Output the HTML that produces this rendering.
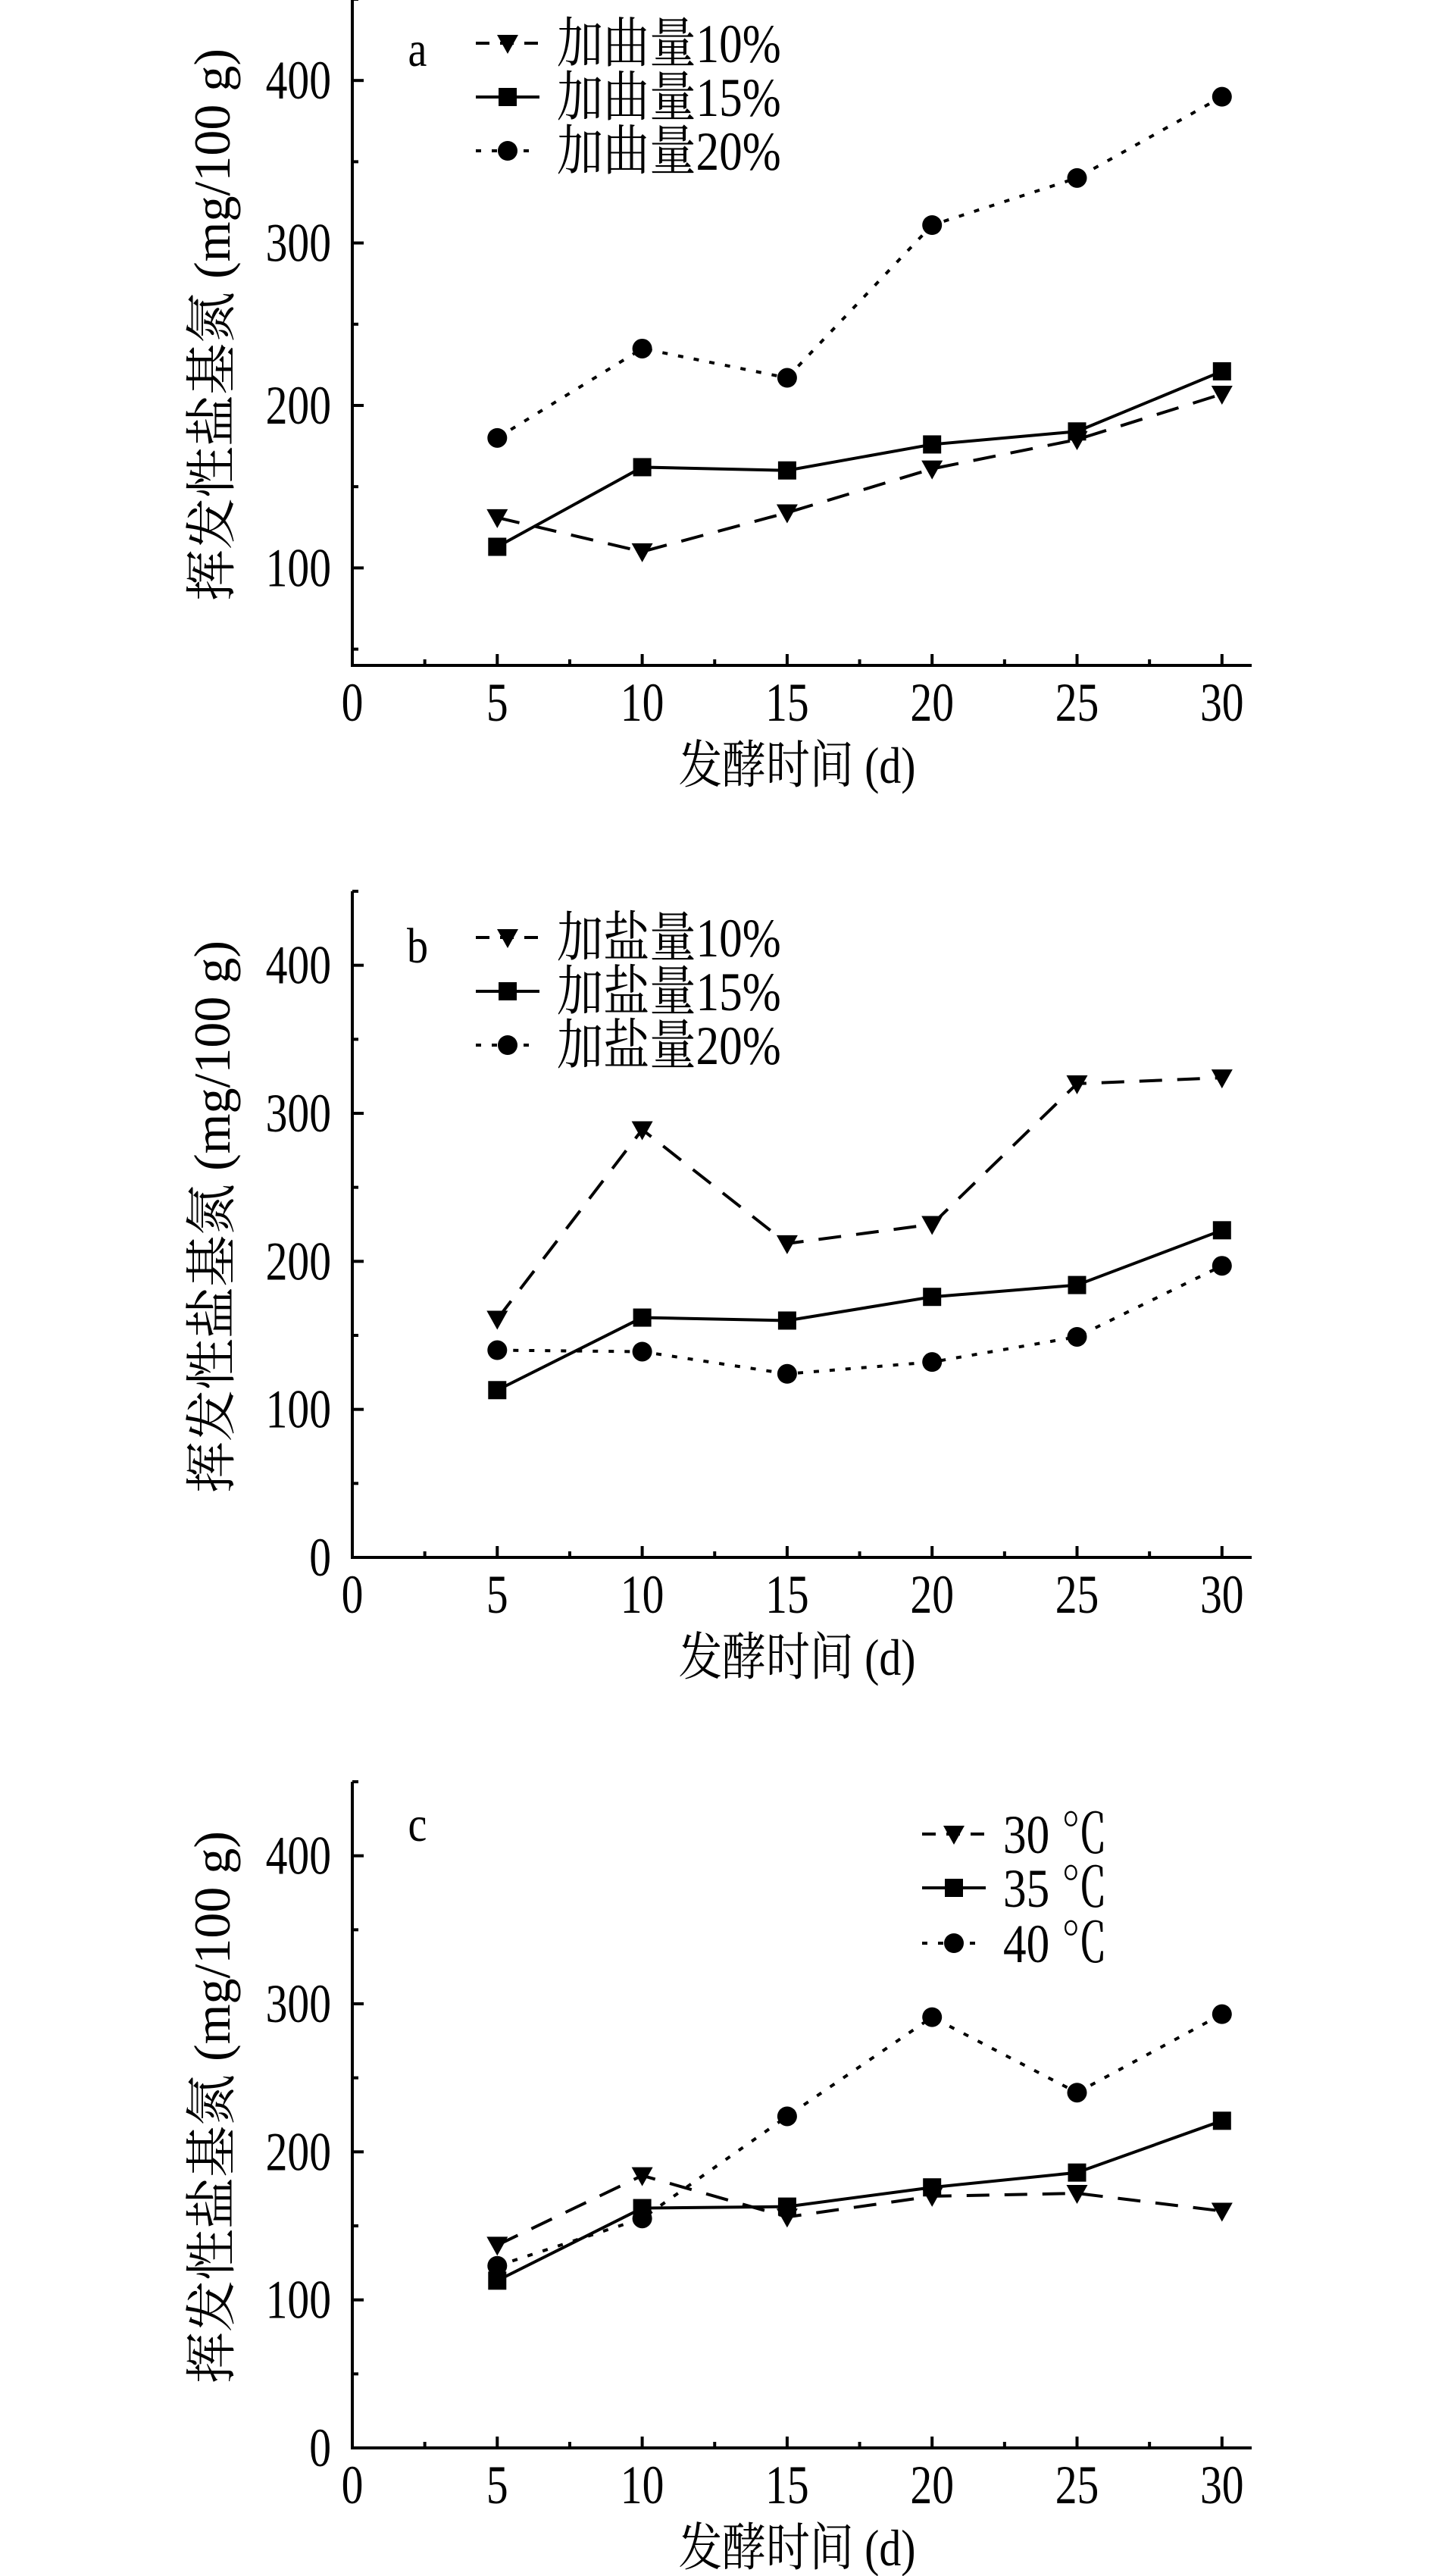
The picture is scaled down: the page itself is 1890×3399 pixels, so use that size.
<!DOCTYPE html>
<html><head><meta charset="utf-8"><style>
html,body{margin:0;padding:0;background:#fff;}
svg{display:block;}
text{font-family:"Liberation Serif","Noto Serif CJK SC",serif;fill:#000;}
</style></head><body>
<svg id="fig" width="1890" height="3399" viewBox="0 0 1890 3399" xmlns="http://www.w3.org/2000/svg"></svg>
<script>
// Shared x categories (fermentation days)
const days = [5, 10, 15, 20, 25, 30];
const xTicks = [0, 5, 10, 15, 20, 25, 30];
const yTicks = [0, 100, 200, 300, 400];

// Panel a: 加曲量
const aLabels = ["加曲量10%", "加曲量15%", "加曲量20%"];
const aS1 = [131, 110, 134, 161, 179, 207];
const aS2 = [113, 162, 160, 176, 184, 221];
const aS3 = [180, 235, 217, 311, 340, 390];
// Panel b: 加盐量
const bLabels = ["加盐量10%", "加盐量15%", "加盐量20%"];
const bS1 = [161, 289, 212, 225, 320, 324];
const bS2 = [113, 162, 160, 176, 184, 221];
const bS3 = [140, 139, 124, 132, 149, 197];
// Panel c: temperature
const cLabels = ["30 ℃", "35 ℃", "40 ℃"];
const cS1 = [137, 184, 156, 170, 172, 160];
const cS2 = [113, 162, 163, 176, 186, 221];
const cS3 = [123, 155, 224, 291, 240, 293];

const NS = "http://www.w3.org/2000/svg";
const svg = document.getElementById("fig");
function mk(tag, attrs, parent) {
  const e = document.createElementNS(NS, tag);
  for (const k in attrs) e.setAttribute(k, attrs[k]);
  (parent || svg).appendChild(e);
  return e;
}
function txt(parent, x, y, size, anchor, sx, rot) {
  const t = mk("text", {x: 0, y: 0, "font-size": size, "text-anchor": anchor,
    transform: "translate(" + x + " " + y + ")" + (rot ? " rotate(" + rot + ")" : "") + " scale(" + sx + " 1)"}, parent);
  return t;
}

const X0 = 465, X1 = 1652, XPER = 191.3 / 5;
const PLOT_H = 879;

function marker(g, kind, cx, cy) {
  let m;
  if (kind === 0) {
    m = mk("polygon", {points: (cx-14)+","+(cy-11)+" "+(cx+14)+","+(cy-11)+" "+cx+","+(cy+14), fill:"#000"}, g);
  } else if (kind === 1) {
    m = mk("rect", {x: cx-12, y: cy-12, width: 24, height: 24, fill:"#000"}, g);
  } else {
    m = mk("circle", {cx: cx, cy: cy, r: 13, fill:"#000"}, g);
  }
  return m;
}
const dashes = ["30 20", "", "7 14"];

function panel(id, bottom, ymin, ymax, letter, letterY, labels, series, legX, legY) {
  const g = mk("g", {});
  
  
  const yper = PLOT_H / (ymax - ymin);
  const top = bottom - PLOT_H;
  const xs = v => X0 + v * XPER;
  const ys = v => bottom - (v - ymin) * yper;

  const ax = mk("path", {d: "M"+X0+" "+top+" L"+X0+" "+bottom+" L"+X1+" "+bottom, fill:"none", stroke:"#000", "stroke-width":4}, g);
  
  
  for (let v = 0; v <= 30; v += 2.5) {
    const major = v % 5 === 0;
    mk("line", {x1: xs(v), x2: xs(v), y1: bottom, y2: bottom - (major ? 15 : 8), stroke:"#000", "stroke-width":4}, g);
  }
  xTicks.forEach(v => {
    const t = txt(g, xs(v), bottom + 73, 72, "middle", 0.8);
    t.textContent = v;
    
    
  });
  for (let v = 0; v <= 450; v += 50) {
    if (v < ymin) continue;
    const major = v % 100 === 0;
    mk("line", {x1: X0, x2: X0 + (major ? 15 : 8), y1: ys(v), y2: ys(v), stroke:"#000", "stroke-width":4}, g);
  }
  yTicks.forEach(v => {
    if (v < ymin) return;
    const t = txt(g, 437, ys(v) + 24, 72, "end", 0.8);
    t.textContent = v;
    
    
  });
  const xt = txt(g, 1052, bottom + 155, 68, "middle", 0.85);
  xt.textContent = "发酵时间 (d)";
  
  
  const cy = (top + bottom) / 2 - 10;
  const yt = txt(g, 303, cy, 68, "middle", 1, -90);
  yt.textContent = "挥发性盐基氮 (mg/100 g)";
  
  
  const lt = txt(g, 551, letterY + 20, 66, "middle", 0.85);
  lt.textContent = letter;
  
  

  series.forEach((vals, si) => {
    const sg = mk("g", {}, g);
    
    
    const pts = vals.map((v, i) => xs(days[i]) + "," + ys(v)).join(" ");
    const pl = mk("polyline", {points: pts, fill:"none", stroke:"#000", "stroke-width":4}, sg);
    if (dashes[si]) pl.setAttribute("stroke-dasharray", dashes[si]);
    
    
    vals.forEach((v, i) => {
      const m = marker(sg, si, xs(days[i]), ys(v));
      
      
    });
  });

  labels.forEach((lab, si) => {
    const ly = legY[si];
    const lg = mk("g", {}, g);
    
    
    const l = mk("line", {x1: legX, x2: legX + 84, y1: ly, y2: ly, stroke:"#000", "stroke-width":4}, lg);
    if (dashes[si]) l.setAttribute("stroke-dasharray", si === 0 ? "18 14" : "7 14");
    marker(lg, si, legX + 42, ly);
    const t = txt(lg, legX + 107, ly + 25, 72, "start", 0.85);
    t.textContent = lab;
  });
}

panel("a", 878, 40, 450, "a", 67, aLabels, [aS1, aS2, aS3], 628, [57, 128, 199]);
panel("b", 2055, 0, 450, "b", 1250, bLabels, [bS1, bS2, bS3], 628, [1237, 1308, 1379]);
panel("c", 3230, 0, 450, "c", 2409, cLabels, [cS1, cS2, cS3], 1217, [2420, 2491, 2564]);
</script>
</body></html>
